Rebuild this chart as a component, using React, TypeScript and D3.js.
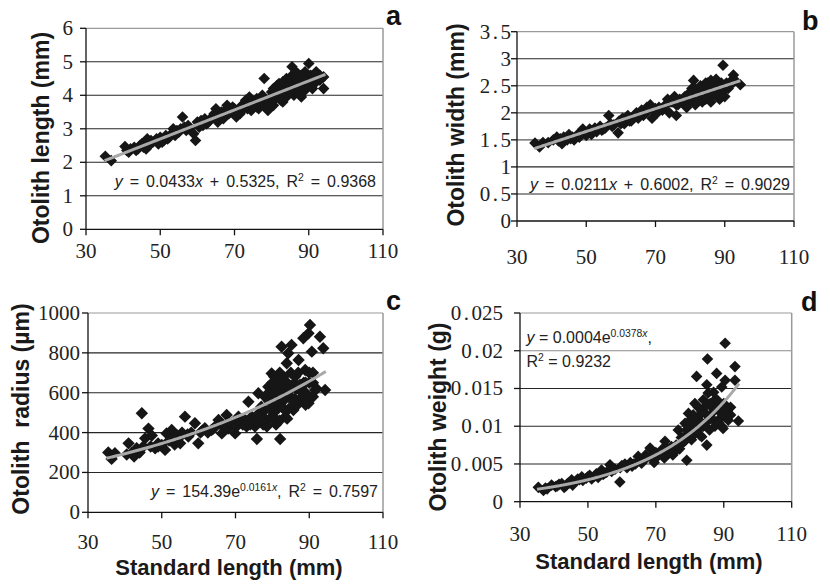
import React from 'react';
import * as d3 from 'd3';

type Pt = [number, number];

const xTickLabels = ['30', '50', '70', '90', '110'];
const aYTickLabels = ['0', '1', '2', '3', '4', '5', '6'];
const bYTickLabels = ['0', '0.5', '1', '1.5', '2', '2.5', '3', '3.5'];
const cYTickLabels = ['0', '200', '400', '600', '800', '1000'];
const dYTickLabels = ['0', '0.005', '0.01', '0.015', '0.02', '0.025'];

const otolithLength: Pt[] = [
  [35.2, 2.18], [36.8, 2.05], [40.5, 2.47], [41.5, 2.3], [42, 2.4], [43, 2.45], [43.5, 2.35], [44.5, 2.5],
  [45, 2.55], [46, 2.6], [46.5, 2.7], [46.2, 2.4], [47, 2.5], [48, 2.6], [49, 2.7], [49.5, 2.55], [50, 2.75],
  [51, 2.65], [51.5, 2.8], [52, 2.7], [53, 2.85], [53.5, 3.0], [54, 2.8], [55, 2.9], [55.5, 3.0], [56, 3.35],
  [56.5, 3.05], [57, 2.95], [58, 3.0], [59.5, 2.65], [59, 2.85], [60, 3.2], [60.5, 3.05], [61, 3.25], [62, 3.3],
  [62.5, 3.15], [63, 3.2], [64, 3.35], [65, 3.6], [65.5, 3.2], [66, 3.4], [67, 3.3], [67.5, 3.55], [68, 3.7],
  [69, 3.5], [70, 3.6], [70.5, 3.35], [71, 3.55], [72, 3.7], [73, 3.85], [73.5, 3.6], [74, 3.95], [74.5, 3.55],
  [75, 3.8], [75.5, 3.7], [76, 3.9], [76.5, 3.6], [77, 3.75], [77.5, 4.0], [78, 4.5], [78.5, 3.8], [79, 3.55],
  [79.5, 3.9], [80, 4.1], [80.5, 3.7], [81, 4.2], [81, 3.9], [81.5, 4.3], [82, 4.0], [82.5, 4.2], [83, 4.4],
  [83, 3.8], [83.5, 4.1], [84, 4.5], [84, 3.95], [84.5, 4.3], [85, 4.1], [85.5, 4.85], [85.5, 4.6], [86, 4.4],
  [86, 4.0], [86.5, 4.7], [87, 4.3], [87, 4.1], [87.5, 4.5], [88, 4.6], [88, 3.95], [88.5, 4.35], [89, 4.7],
  [89, 4.15], [89.5, 4.5], [90, 4.95], [90, 4.3], [90.5, 4.6], [91, 4.4], [92, 4.7], [92.5, 4.5], [93, 4.6],
  [94, 4.2], [94, 4.55],
  [41, 2.35], [44, 2.4], [45.5, 2.45], [47.5, 2.65], [50.5, 2.6], [52.5, 2.75], [54.5, 2.95], [57.5, 3.1],
  [61.5, 3.1], [63.5, 3.3], [64.5, 3.45], [66.5, 3.5], [68.5, 3.45], [69.5, 3.65], [71.5, 3.45], [72.5, 3.6],
  [74, 3.75], [75, 3.65], [76, 3.65], [77, 3.9], [78, 3.7], [79, 3.85], [80, 3.95], [80.5, 4.2], [81.5, 4.05],
  [82, 4.35], [82.5, 3.85], [83.5, 4.4], [84.5, 4.1], [85, 4.45], [86, 4.2], [86.5, 4.5], [87, 4.65], [88, 4.25],
  [88.5, 4.55], [89.5, 4.25], [90.5, 4.45], [91.5, 4.55], [91, 4.2], [92, 4.4], [93, 4.45],
];

const otolithWidth: Pt[] = [
  [35.2, 1.44], [36.5, 1.37], [37.5, 1.45], [40.5, 1.5], [41.5, 1.55], [42, 1.48], [43, 1.43], [43.5, 1.55],
  [44.5, 1.5], [45, 1.6], [46, 1.55], [46.5, 1.5], [47.5, 1.6], [48, 1.55], [49, 1.7], [49.5, 1.62], [50.5, 1.65],
  [51, 1.7], [51.5, 1.6], [52.5, 1.72], [53, 1.65], [54, 1.75], [54.5, 1.68], [55.5, 1.72], [56.5, 1.95],
  [57, 1.8], [58, 1.78], [59.2, 1.63], [59.5, 1.85], [60.5, 1.9], [61, 1.8], [62, 1.95], [62.5, 1.85],
  [63.5, 1.9], [64.5, 2.0], [65, 1.9], [66, 2.05], [66.5, 1.95], [67.5, 2.1], [68.5, 2.15], [69, 1.9],
  [69.5, 2.05], [70.5, 2.0], [71, 2.1], [72, 2.05], [73, 2.15], [73.5, 2.25], [74, 2.0], [74.5, 2.2],
  [75.5, 2.3], [76, 1.95], [76.5, 2.15], [77, 2.25], [78, 2.2], [78.5, 2.3], [79, 2.1], [79.5, 2.35], [80, 2.2],
  [80.5, 2.45], [81, 2.6], [81, 2.3], [81.5, 2.15], [82, 2.4], [82.5, 2.25], [83, 2.5], [83.5, 2.2], [84, 2.4],
  [84.5, 2.55], [84.5, 2.25], [85, 2.45], [85.5, 2.3], [86, 2.6], [86, 2.2], [86.5, 2.5], [87, 2.35],
  [87.5, 2.62], [88, 2.3], [88, 2.5], [88.5, 2.25], [89, 2.55], [89.5, 2.88], [89.5, 2.4], [90, 2.3],
  [90.5, 2.55], [91, 2.45], [92.5, 2.7], [93, 2.6], [94.5, 2.52],
  [39, 1.45], [42.5, 1.52], [45.5, 1.52], [48.5, 1.62], [50, 1.58], [52, 1.66], [55, 1.7], [57.5, 1.75],
  [60, 1.8], [63, 1.85], [64, 1.95], [67, 2.0], [68, 2.05], [70, 2.08], [72.5, 2.12], [75, 2.2], [76, 2.15],
  [77.5, 2.2], [79, 2.25], [80, 2.35], [81.5, 2.45], [82.5, 2.35], [83.5, 2.45], [84, 2.3], [85, 2.55],
  [86.5, 2.35], [87, 2.55], [88.5, 2.45], [89, 2.3], [90, 2.5], [91.5, 2.5], [92, 2.6],
];

const otolithRadius: Pt[] = [
  [35.5, 300], [36.4, 268], [37.3, 296], [40.5, 290], [41, 346], [41.8, 296], [42.5, 280], [43.2, 321],
  [44, 300], [44.6, 497], [45.5, 371], [45, 330], [46.4, 420], [47.3, 385], [47, 330], [48.2, 321], [49, 345],
  [50, 338], [50.9, 313], [51.3, 396], [52, 360], [52.7, 413], [53.5, 340], [54, 388], [54.5, 370], [55, 346],
  [55.5, 400], [56.3, 480], [57.2, 380], [58, 400], [59, 447], [59.9, 346], [60.5, 400], [61.7, 422],
  [62.5, 400], [63.5, 413], [64.5, 430], [65.4, 463], [66.3, 396], [66, 440], [67.6, 488], [68, 420],
  [69, 447], [69.9, 396], [70.3, 430], [70.8, 480], [71.5, 450], [72.6, 463], [73, 430], [73.5, 555],
  [74.4, 480], [74, 440], [75.3, 430], [75.8, 368], [76.2, 597], [76.5, 500], [77.1, 480], [77.5, 440],
  [78, 513], [78.5, 430], [78.9, 630], [79.3, 470], [79.8, 697], [80, 560], [80.3, 500], [80.7, 564], [81, 440],
  [81.2, 463], [81.6, 664], [82.1, 368], [82.5, 831], [82.5, 530], [82.8, 600], [83.4, 630], [83.5, 480],
  [83.9, 748], [84.3, 798], [84.8, 580], [85.2, 840], [85.7, 513], [86.2, 681], [86.5, 620], [87.1, 764],
  [87.5, 560], [88, 614], [88.4, 873], [88.9, 714], [89, 600], [89.8, 898], [89.8, 547], [90.2, 940],
  [90.7, 806], [91, 580], [91.6, 614], [92.9, 881], [93.8, 823], [94.3, 614], [80, 620], [81.5, 520],
  [84, 650], [85, 700], [86, 570], [87, 700], [88.5, 650], [83, 560], [82, 700], [80.5, 680], [79, 560],
  [77, 530], [76, 450], [84.5, 520], [86.8, 540], [89.5, 580], [90, 650], [91, 650],
  [78, 580], [79, 600], [80, 650], [81, 600], [82, 640], [83, 680], [84, 600], [85, 620], [86, 650], [87, 620],
  [88, 580], [89, 650], [90, 700], [91, 700], [92, 620], [79.5, 520], [81, 540], [83, 520], [85.5, 560],
  [87.5, 640], [89, 540], [82, 460], [84, 470], [80, 470], [78, 470], [76.5, 470], [74, 470], [72, 440],
  [70, 450], [68, 450], [66, 450], [64, 420], [61, 410], [57, 390], [53, 370], [49, 330],
];

const otolithWeight: Pt[] = [
  [35.4, 0.0019], [36.9, 0.0015], [37.5, 0.0018], [39.3, 0.0022], [40.5, 0.002], [41.5, 0.0023], [42.3, 0.0024],
  [43, 0.0019], [43.5, 0.0021], [44.5, 0.0025], [45.2, 0.0029], [45.5, 0.0022], [46.5, 0.0027], [47, 0.003],
  [48.2, 0.0033], [48.5, 0.0028], [49.5, 0.0031], [50.5, 0.0035], [51.1, 0.003], [52, 0.0034], [52.5, 0.0037],
  [53, 0.0032], [54, 0.0042], [54.5, 0.0036], [55.5, 0.0039], [56.5, 0.0049], [57, 0.004], [58, 0.0043],
  [59.4, 0.0026], [59.5, 0.0045], [60.9, 0.005], [61.5, 0.0045], [62.5, 0.0052], [63, 0.0047], [64, 0.005],
  [64.8, 0.006], [65.8, 0.0051], [66.5, 0.0056], [67, 0.0062], [68.3, 0.0071], [68.8, 0.0058], [69.5, 0.0052],
  [70.5, 0.006], [71.7, 0.0064], [72.5, 0.0058], [72.7, 0.008], [73.5, 0.007], [74.6, 0.0073], [75, 0.0062],
  [76, 0.0068], [76.6, 0.0095], [77.6, 0.0077], [78, 0.0085], [78.6, 0.0104], [79.1, 0.0055], [79.6, 0.0117],
  [79.8, 0.009], [80.5, 0.0082], [81, 0.01], [81.5, 0.013], [82, 0.0166], [82.5, 0.0113], [82.5, 0.0095],
  [83, 0.0088], [83.5, 0.0086], [85, 0.0075], [84.5, 0.0126], [84.8, 0.0105], [85, 0.0155], [85.2, 0.0189],
  [85.4, 0.0144], [85.8, 0.0095], [86.4, 0.0117], [87, 0.0108], [87.4, 0.0135], [87.4, 0.01], [87.9, 0.017],
  [88.4, 0.0121], [88.8, 0.011], [89.4, 0.0152], [89.4, 0.01], [89.8, 0.0097], [90.4, 0.021], [90.4, 0.0161],
  [90.4, 0.0117], [91.3, 0.0108], [92, 0.0125], [93.3, 0.0179], [93.3, 0.0161], [94.3, 0.0107], [80.5, 0.011],
  [83.5, 0.012], [86, 0.013], [88, 0.0125], [84, 0.01], [81.5, 0.009], [78.5, 0.008], [77, 0.007], [70, 0.0065],
  [66, 0.0055], [63.5, 0.005],
  [79, 0.0095], [80, 0.0105], [81, 0.0115], [82, 0.0105], [82.5, 0.0125], [83.5, 0.0105], [84, 0.0135],
  [85, 0.0115], [86, 0.011], [86.5, 0.0125], [87, 0.0145], [88, 0.0135], [88.5, 0.0105], [89, 0.0125],
  [90, 0.013], [91, 0.012], [92, 0.0115], [77.5, 0.0085], [76, 0.0075], [74, 0.0065], [72, 0.007], [69, 0.0062],
  [67, 0.0057], [60, 0.0048], [57.5, 0.0044], [55, 0.0038], [50, 0.0033], [47.5, 0.0029], [44, 0.0024],
  [41, 0.0021], [38, 0.0017],
];

// Trend-line coefficients (printed equations; weight curve uses the unrounded intercept)
const lengthFit = [0.0433, 0.5325];
const widthFit = [0.0211, 0.6002];
const radiusFit = [154.39, 0.0161];
const weightFit = [0.00044, 0.0378];
const fitRange = [35, 94.5];

type Part = { t: string; i?: boolean; sup?: boolean };

const eqA: Part[] = [{ t: 'y', i: true }, { t: ' = 0.0433' }, { t: 'x', i: true }, { t: ' + 0.5325, R' }, { t: '2', sup: true }, { t: ' = 0.9368' }];
const eqB: Part[] = [{ t: 'y', i: true }, { t: ' = 0.0211' }, { t: 'x', i: true }, { t: ' + 0.6002, R' }, { t: '2', sup: true }, { t: ' = 0.9029' }];
const eqC: Part[] = [{ t: 'y', i: true }, { t: ' = 154.39e' }, { t: '0.0161', sup: true }, { t: 'x', sup: true, i: true }, { t: ', R' }, { t: '2', sup: true }, { t: ' = 0.7597' }];
const eqD1: Part[] = [{ t: 'y', i: true }, { t: ' = 0.0004e' }, { t: '0.0378', sup: true }, { t: 'x', sup: true, i: true }, { t: ',' }];
const eqD2: Part[] = [{ t: 'R' }, { t: '2', sup: true }, { t: ' = 0.9232' }];

const SANS = 'Liberation Sans, Arial, sans-serif';
const SERIF = 'Liberation Serif, Times New Roman, serif';
const TICK_FS = 21;

function Equation({ parts, x, y, anchor, size, ws }: { parts: Part[]; x: number; y: number; anchor: string; size: number; ws: number }) {
  let prevSup = false;
  return (
    <text x={x} y={y} textAnchor={anchor} fontFamily={SANS} fontSize={size} fill="#222" style={{ whiteSpace: 'pre', wordSpacing: ws + 'px' }}>
      {parts.map((p, k) => {
        let dy = 0;
        if (p.sup && !prevSup) dy = -size * 0.38;
        if (!p.sup && prevSup) dy = size * 0.38;
        prevSup = !!p.sup;
        return (
          <tspan key={k} dy={dy} fontStyle={p.i ? 'italic' : 'normal'} fontSize={p.sup ? size * 0.65 : size}>
            {p.t}
          </tspan>
        );
      })}
    </text>
  );
}

function TickText({ s, x, y, anchor }: { s: string; x: number; y: number; anchor: string }) {
  const k = s.indexOf('.');
  return (
    <text x={x} y={y} textAnchor={anchor} fontFamily={SERIF} fontSize={TICK_FS} fill="#222">
      {k < 0 ? (
        s
      ) : (
        <>
          <tspan>{s.slice(0, k)}</tspan>
          <tspan dx={2.5}>.</tspan>
          <tspan dx={2.5}>{s.slice(k + 1)}</tspan>
        </>
      )}
    </text>
  );
}

type PanelCfg = {
  data: Pt[];
  yLabels: string[];
  l: number; r: number; t: number; b: number;
  f: (x: number) => number;
  yLabelRight: number;
  xLabelBase: number;
  r0: number;
  gridColor: (v: number) => string;
};

function Panel({ p }: { p: PanelCfg }) {
  const yVals = p.yLabels.map(Number);
  const yMax = yVals[yVals.length - 1];
  const x = d3.scaleLinear().domain([30, 110]).range([p.l, p.r]);
  const y = d3.scaleLinear().domain([0, yMax]).range([p.b, p.t]);
  const sym = d3.symbol(d3.symbolSquare, 2 * p.r0 * p.r0)() as string;
  const xs = d3.range(fitRange[0], fitRange[1] + 0.001, 0.25);
  const line = d3.line<number>().x((d) => x(d)).y((d) => y(p.f(d)));
  return (
    <g>
      {yVals.slice(1, -1).map((v) => (
        <line key={'g' + v} x1={p.l} x2={p.r} y1={y(v)} y2={y(v)} stroke={p.gridColor(v)} strokeWidth={1.1} />
      ))}
      <line x1={p.l} x2={p.r} y1={p.t} y2={p.t} stroke="#9a9a9a" strokeWidth={1.2} />
      <line x1={p.r} x2={p.r} y1={p.t} y2={p.b} stroke="#9a9a9a" strokeWidth={1.5} />
      <line x1={p.l} x2={p.l} y1={p.t} y2={p.b} stroke="#111" strokeWidth={1.3} />
      <line x1={p.l} x2={p.r} y1={p.b} y2={p.b} stroke="#111" strokeWidth={1.3} />
      {yVals.map((v, k) => (
        <g key={'y' + v}>
          <line x1={p.l - 6} x2={p.l} y1={y(v)} y2={y(v)} stroke="#111" strokeWidth={1.3} />
          <TickText s={p.yLabels[k]} x={p.yLabelRight} y={y(v) + 7} anchor="end" />
        </g>
      ))}
      {xTickLabels.map((s) => (
        <g key={'x' + s}>
          <line x1={x(+s)} x2={x(+s)} y1={p.b} y2={p.b + 6} stroke="#111" strokeWidth={1.3} />
          <TickText s={s} x={x(+s)} y={p.xLabelBase} anchor="middle" />
        </g>
      ))}
      {p.data.map((d, k) => (
        <path key={'p' + k} d={sym} transform={`translate(${x(d[0])},${y(d[1])}) rotate(45)`} fill="#161616" />
      ))}
      <path d={line(xs) as string} fill="none" stroke="#a9a9a9" strokeWidth={3} />
    </g>
  );
}

const dark = () => '#262626';

export default function App() {
  const panels: PanelCfg[] = [
    { data: otolithLength, yLabels: aYTickLabels, l: 86, r: 383, t: 28.3, b: 229.3, f: (v) => lengthFit[0] * v + lengthFit[1], yLabelRight: 73, xLabelBase: 258, r0: 5.8, gridColor: dark },
    { data: otolithWidth, yLabels: bYTickLabels, l: 517, r: 794, t: 31.7, b: 221, f: (v) => widthFit[0] * v + widthFit[1], yLabelRight: 511, xLabelBase: 264, r0: 5.8, gridColor: (v) => (v >= 1.5 && v <= 2.5 ? '#5a5a5a' : '#262626') },
    { data: otolithRadius, yLabels: cYTickLabels, l: 88, r: 383, t: 313, b: 512.3, f: (v) => radiusFit[0] * Math.exp(radiusFit[1] * v), yLabelRight: 80, xLabelBase: 549, r0: 6.2, gridColor: dark },
    { data: otolithWeight, yLabels: dYTickLabels, l: 520, r: 791.7, t: 313, b: 501.7, f: (v) => weightFit[0] * Math.exp(weightFit[1] * v), yLabelRight: 503, xLabelBase: 541, r0: 5.8, gridColor: (v) => (v === 0.02 ? '#8a8a8a' : '#262626') },
  ];
  return (
    <svg width={830} height={588} style={{ position: 'absolute', left: 0, top: 0, background: '#fff' }}>
      <rect width={830} height={588} fill="#fff" />
      {panels.map((p, k) => (
        <Panel key={k} p={p} />
      ))}
      <Equation parts={eqA} x={376} y={187} anchor="end" size={16} ws={2.5} />
      <Equation parts={eqB} x={790} y={190} anchor="end" size={16} ws={2.5} />
      <Equation parts={eqC} x={378} y={497} anchor="end" size={16} ws={2.5} />
      <Equation parts={eqD1} x={526.5} y={343} anchor="start" size={16} ws={0} />
      <Equation parts={eqD2} x={526.5} y={367} anchor="start" size={16} ws={0} />

      <g fontFamily={SANS} fontWeight="bold" fontSize={23} fill="#1a1a1a" textAnchor="middle">
        <text transform="translate(49,138) rotate(-90)">Otolith length (mm)</text>
        <text transform="translate(464,125) rotate(-90)">Otolith width (mm)</text>
        <text transform="translate(29,409) rotate(-90)" style={{ whiteSpace: 'pre' }}>Otolith  radius (µm)</text>
        <text transform="translate(446,417) rotate(-90)">Otolith weight (g)</text>
        <text x={229} y={575} fontSize={22}>Standard length (mm)</text>
        <text x={649} y={569} fontSize={22}>Standard length (mm)</text>
      </g>
      <g fontFamily={SANS} fontWeight="bold" fontSize={27} fill="#111">
        <text x={386} y={25}>a</text>
        <text x={802} y={30}>b</text>
        <text x={386} y={310}>c</text>
        <text x={801} y={311}>d</text>
      </g>
    </svg>
  );
}
